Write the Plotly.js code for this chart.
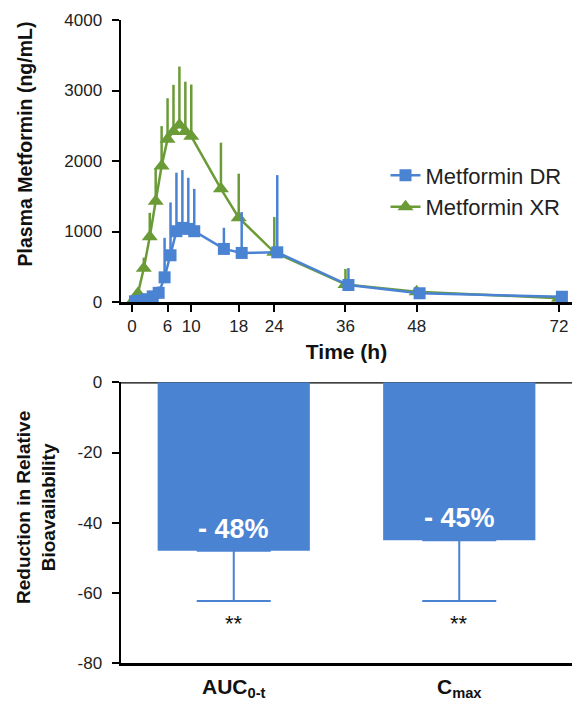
<!DOCTYPE html>
<html>
<head>
<meta charset="utf-8">
<script src="https://cdn.plot.ly/plotly-3.0.1.min.js"></script>
<style>html,body{margin:0;padding:0;background:#fff;}#chart{width:572px;height:702px;}</style>
</head>
<body>
<div id="chart"></div>
<script>
// ---- Top panel: plasma concentration-time data ----
const timeDR = [0.5, 1.5, 2.5, 3.5, 4.5, 5.5, 6.5, 7.5, 8.5, 9.5, 10.5, 15.5, 18.5, 24.5, 36.5, 48.5, 72.5];
const concDR = [10, 20, 40, 80, 130, 350, 663, 1004, 1051, 1037, 1004, 753, 696, 705, 241, 124, 75];
const errDR  = [5, 10, 20, 60, 90, 560, 750, 830, 820, 725, 600, 300, 580, 1095, 240, 20, 10];

const timeXR = [0, 1, 2, 3, 4, 5, 6, 7, 8, 9, 10, 15, 18, 24, 36, 48, 72];
const concXR = [0, 120, 480, 925, 1430, 1930, 2310, 2420, 2510, 2420, 2350, 1605, 1195, 705, 250, 145, 55];
const errXR  = [0, 40, 150, 340, 470, 565, 580, 660, 830, 705, 735, 655, 625, 500, 220, 30, 10];

const timeTicks = [0, 6, 10, 18, 24, 36, 48, 72];
const concTicks = [0, 1000, 2000, 3000, 4000];

// ---- Bottom panel: reduction in relative bioavailability ----
const paramLabels = ['<b>AUC<sub>0-t</sub></b>', '<b>C<sub>max</sub></b>'];
const reduction   = [-48, -45];
const reductionErr = [14.3, 17.3];
const significance = ['**', '**'];
const reductionTicks = [0, -20, -40, -60, -80];

const BLUE = '#4b83d3';
const GREEN = '#6b9b37';
const FONT = 'Liberation Sans, Arial, Helvetica, sans-serif';
const zeros = a => a.map(() => 0);

const traces = [
  {
    type: 'scatter', mode: 'lines+markers', name: 'Metformin XR',
    x: timeXR, y: concXR, xaxis: 'x', yaxis: 'y', legendrank: 2,
    line: {color: GREEN, width: 2.5},
    marker: {symbol: 'triangle-up', size: 14, color: GREEN},
    error_y: {type: 'data', symmetric: false, array: errXR, arrayminus: zeros(errXR),
              color: GREEN, thickness: 2.5, width: 0}
  },
  {
    type: 'scatter', mode: 'lines+markers', name: 'Metformin DR',
    x: timeDR, y: concDR, xaxis: 'x', yaxis: 'y', legendrank: 1,
    line: {color: BLUE, width: 2.5},
    marker: {symbol: 'square', size: 12, color: BLUE},
    error_y: {type: 'data', symmetric: false, array: errDR, arrayminus: zeros(errDR),
              color: BLUE, thickness: 2.5, width: 0}
  },
  {
    type: 'bar', x: paramLabels, y: reduction, xaxis: 'x2', yaxis: 'y2',
    showlegend: false, width: 0.675,
    marker: {color: BLUE, line: {width: 0}},
    error_y: {type: 'data', symmetric: false, array: zeros(reduction), arrayminus: reductionErr,
              color: BLUE, thickness: 2, width: 37}
  }
];

const annotations = [
  {xref: 'paper', yref: 'paper', x: -0.2129, y: 0.808, xanchor: 'center', yanchor: 'middle',
   textangle: -90, showarrow: false,
   text: '<b>Plasma Metformin (ng/mL)</b>', font: {family: FONT, size: 19.5, color: '#111'}},
  {xref: 'paper', yref: 'paper', x: -0.1885, y: 0.2426, xanchor: 'center', yanchor: 'middle',
   textangle: -90, showarrow: false,
   text: '<b>Reduction in Relative<br>Bioavailability</b>', font: {family: FONT, size: 19, color: '#111'}}
];
reduction.forEach((v, i) => {
  annotations.push({xref: 'x2', yref: 'y2', x: paramLabels[i], y: v + 6.3, showarrow: false,
    text: '<b>- ' + Math.abs(v) + '%</b>', font: {family: FONT, size: 27, color: '#fff'}});
  annotations.push({xref: 'x2', yref: 'y2', x: paramLabels[i], y: v - reductionErr[i] - 6.5, showarrow: false,
    text: significance[i], font: {family: FONT, size: 22, color: '#111'}});
});

const axisCommon = {
  showline: true, linecolor: '#000', linewidth: 2.5, showgrid: false, zeroline: false,
  ticks: 'outside', ticklen: 7, tickwidth: 2, tickcolor: '#000', ticklabelstandoff: 6,
  tickfont: {family: FONT, size: 17, color: '#222'}
};

const layout = {
  width: 572, height: 702,
  margin: {l: 121, r: 0, t: 20, b: 39},
  paper_bgcolor: '#fff', plot_bgcolor: '#fff',
  font: {family: FONT, color: '#222'},
  showlegend: true,
  legend: {x: 0.5865, y: 0.791, xanchor: 'left', yanchor: 'top', bgcolor: 'rgba(0,0,0,0)',
           font: {family: FONT, size: 22, color: '#222'}},
  xaxis: Object.assign({}, axisCommon, {
    domain: [0, 1], anchor: 'y', range: [-1.85, 74.2], ticklabelstandoff: 0,
    tickmode: 'array', tickvals: timeTicks, ticktext: timeTicks.map(String),
    title: {text: '<b>Time (h)</b>', font: {family: FONT, size: 21, color: '#111'}, standoff: 10}
  }),
  yaxis: Object.assign({}, axisCommon, {
    domain: [0.5614, 1], anchor: 'x', range: [0, 4000],
    tickmode: 'array', tickvals: concTicks, ticktext: concTicks.map(String)
  }),
  xaxis2: Object.assign({}, axisCommon, {
    domain: [0, 1], anchor: 'y2', type: 'category', range: [-0.5, 1.5],
    ticks: '', ticklabelstandoff: 3,
    tickfont: {family: FONT, size: 21, color: '#111'}
  }),
  yaxis2: Object.assign({}, axisCommon, {
    domain: [0, 0.4365], anchor: 'x2', range: [-80, 0],
    tickmode: 'array', tickvals: reductionTicks, ticktext: reductionTicks.map(String)
  }),
  shapes: [
    {type: 'line', layer: 'below', xref: 'x2 domain', yref: 'y2', x0: 0, x1: 1, y0: 0, y1: 0,
     line: {color: '#000', width: 2.5}}
  ],
  annotations: annotations
};

Plotly.newPlot('chart', traces, layout, {displayModeBar: false, staticPlot: true});
</script>
</body>
</html>
